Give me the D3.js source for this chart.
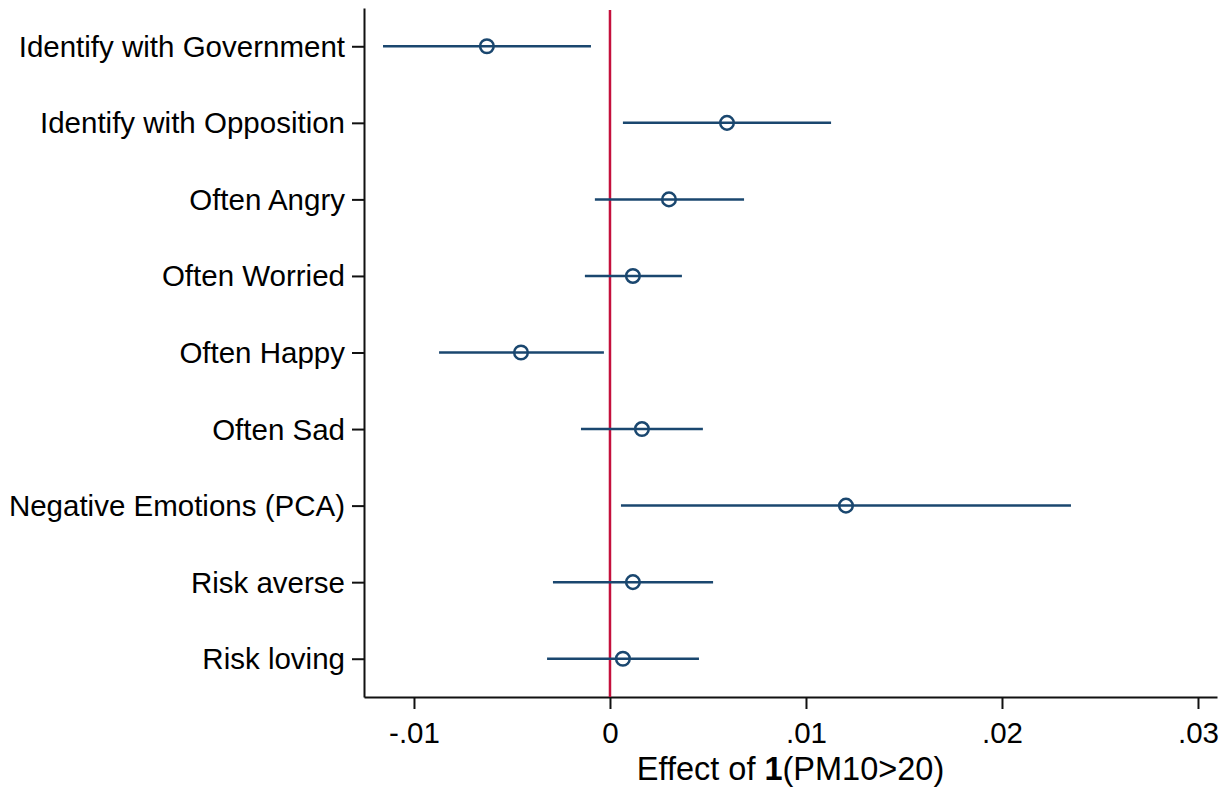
<!DOCTYPE html>
<html>
<head>
<meta charset="utf-8">
<script src="https://cdn.jsdelivr.net/npm/d3@7"></script>
<style>
  body { margin: 0; background: #fff; }
  text { font-family: "Liberation Sans", Arial, sans-serif; }
</style>
</head>
<body>
<div id="chart"></div>
<script>
// outcome labels, top to bottom
const outcomes = [
    "Identify with Government",
    "Identify with Opposition",
    "Often Angry",
    "Often Worried",
    "Often Happy",
    "Often Sad",
    "Negative Emotions (PCA)",
    "Risk averse",
    "Risk loving"
];
// point estimates and 95% CI bounds
const estimates = [-0.00628, 0.00597, 0.00301, 0.00117, -0.00454, 0.00163, 0.01204, 0.00117, 0.00066];
const lower = [-0.01158, 0.00066, -0.00077, -0.00128, -0.00872, -0.00148, 0.00056, -0.00291, -0.00321];
const upper = [-0.00097, 0.01128, 0.00684, 0.00367, -0.00031, 0.00474, 0.02352, 0.00526, 0.00454];
const xTicks = [-0.01, 0, 0.01, 0.02, 0.03];
const xTickLabels = ["-.01", "0", ".01", ".02", ".03"];

const W = 1228, H = 794;
const margin = { top: 8, right: 11, bottom: 97, left: 364 };
const width = W - margin.left - margin.right,
    height = H - margin.top - margin.bottom;

const navy = "#1a476f", red = "#c4103c";

let svg = d3.select("#chart")
    .append("svg")
    .attr("width", W)
    .attr("height", H);

let g = svg.append("g")
    .attr("transform", `translate(${margin.left},${margin.top})`);

const x = d3.scaleLinear()
    .domain([-0.01255, 0.03097])
    .range([0, width]);

const y = d3.scalePoint()
    .domain(outcomes)
    .range([0, height])
    .padding(0.5);

// axes
const xAxis = g.append("g")
    .attr("transform", `translate(0,${height})`)
    .call(d3.axisBottom(x)
        .tickValues(xTicks)
        .tickFormat((d, i) => xTickLabels[i])
        .tickSize(12).tickPadding(13).tickSizeOuter(0));

const yAxis = g.append("g")
    .call(d3.axisLeft(y).tickSize(12).tickPadding(7).tickSizeOuter(0));

[xAxis, yAxis].forEach(a => {
    a.select(".domain").attr("stroke", "#111").attr("stroke-width", 2);
    a.selectAll(".tick line").attr("stroke", "#111").attr("stroke-width", 2);
    a.selectAll(".tick text").attr("font-size", 29.5).attr("fill", "#000")
        .style("font-family", '"Liberation Sans", Arial, sans-serif');
});
yAxis.selectAll(".tick text").attr("dy", "0.34em");

// zero line
g.append("line")
    .attr("x1", x(0)).attr("x2", x(0))
    .attr("y1", 2).attr("y2", height)
    .attr("stroke", red)
    .attr("stroke-width", 2.5);

// confidence intervals
const rows = outcomes.map((o, i) => ({ o, est: estimates[i], lo: lower[i], hi: upper[i] }));

g.selectAll(".ci")
    .data(rows)
    .enter()
    .append("line")
    .attr("class", "ci")
    .attr("x1", d => x(d.lo))
    .attr("x2", d => x(d.hi))
    .attr("y1", d => y(d.o))
    .attr("y2", d => y(d.o))
    .attr("stroke", navy)
    .attr("stroke-width", 2.5);

g.selectAll(".pt")
    .data(rows)
    .enter()
    .append("circle")
    .attr("class", "pt")
    .attr("cx", d => x(d.est))
    .attr("cy", d => y(d.o))
    .attr("r", 6.8)
    .attr("fill", "none")
    .attr("stroke", navy)
    .attr("stroke-width", 2.5);

// x axis title
const title = svg.append("text")
    .attr("x", margin.left + width / 2)
    .attr("y", 780)
    .attr("text-anchor", "middle")
    .attr("font-size", 32.5)
    .attr("fill", "#000");
title.append("tspan").text("Effect of ");
title.append("tspan").attr("font-weight", "bold").text("1");
title.append("tspan").text("(PM10>20)");
</script>
</body>
</html>
